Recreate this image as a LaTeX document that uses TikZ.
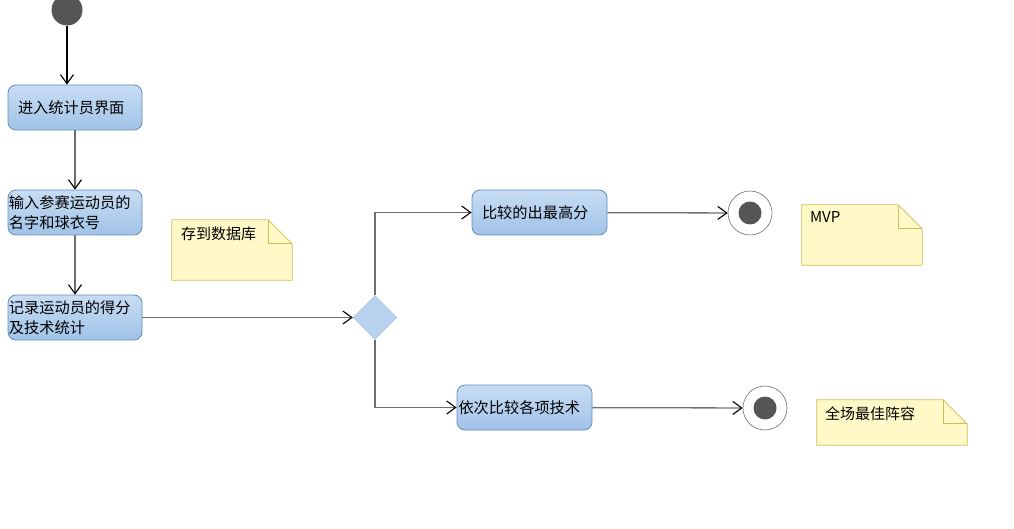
\documentclass[tikz,border=0pt]{standalone}
\usepackage{fontspec}
\setmainfont{Noto Sans CJK SC}
\usetikzlibrary{arrows.meta,shapes.geometric,calc}
\definecolor{boxtop}{RGB}{200,221,243}
\definecolor{boxbot}{RGB}{160,195,232}
\definecolor{boxline}{RGB}{100,140,190}
\definecolor{diafill}{RGB}{185,211,238}
\definecolor{dialine}{RGB}{150,185,225}
\definecolor{dark}{RGB}{85,85,85}
\definecolor{notefill}{RGB}{255,249,200}
\definecolor{noteline}{RGB}{205,190,90}
\definecolor{conn}{RGB}{110,110,110}
\tikzset{
  actbox/.style={rectangle, rounded corners=8pt, draw=boxline, line width=0.8pt,
    top color=boxtop, bottom color=boxbot, minimum width=134pt, minimum height=45pt,
    align=left, font=\fontsize{15.2pt}{20pt}\selectfont},
  decbox/.style={diamond, draw=dialine, fill=diafill, minimum width=44pt, minimum height=44pt, inner sep=0pt, aspect=1},
  startdot/.style={circle, fill=dark, minimum size=31pt, inner sep=0pt},
  endring/.style={circle, draw=conn, line width=0.6pt, fill=white, minimum size=44pt, inner sep=0pt},
  enddot/.style={circle, fill=dark, minimum size=23pt, inner sep=0pt},
  notebox/.style={rectangle, inner sep=0pt},
  noteshape/.style={draw=noteline, fill=notefill, line width=0.7pt},
  notetext/.style={anchor=north west, inner sep=0pt, font=\fontsize{15pt}{20pt}\selectfont},
  arr/.style={draw=conn, line width=1.3pt, -{Straight Barb[length=9pt,width=13pt,line width=1.1pt,color=black]}},
}
\newcommand{\notefold}[1]{%
  \draw[noteshape] (#1.north west) -- ($(#1.north east)+(-24,0)$) -- ($(#1.north east)+(0,24)$) -- (#1.south east) -- (#1.south west) -- cycle;
  \draw[draw=noteline, line width=0.7pt] ($(#1.north east)+(-24,0)$) -- ($(#1.north east)+(-24,24)$) -- ($(#1.north east)+(0,24)$);
}
\begin{document}
\begin{tikzpicture}[x=1pt,y=-1pt]
\useasboundingbox (0,0) rectangle (1014,529);
% nodes
\node[startdot] (start) at (67,10) {};
\node[actbox, inner xsep=10pt, text width=114pt] (b1) at (75,107.5) {进入统计员界面};
\node[actbox, inner xsep=1pt, text width=132pt] (b2) at (75,212.5) {输入参赛运动员的\\名字和球衣号};
\node[actbox, inner xsep=1pt, text width=132pt] (b3) at (75,317.5) {记录运动员的得分\\及技术统计};
\node[decbox] (dia) at (375,317.5) {};
\node[actbox, inner xsep=10pt, text width=115pt] (b4) at (539.5,212.5) {比较的出最高分};
\node[actbox, inner xsep=1.5pt, text width=132pt] (b5) at (524.5,407.5) {依次比较各项技术};
\node[endring] (e1) at (750,213) {};
\node[enddot] at (e1) {};
\node[endring] (e2) at (765,408) {};
\node[enddot] at (e2) {};
% notes
\node[notebox, minimum width=120pt, minimum height=60pt] (n1) at (232,250) {};
\notefold{n1}
\node[notetext] (t1) at ($(n1.north west)+(9,7)$) {存到数据库};
\node[notebox, minimum width=120pt, minimum height=60pt] (n2) at (862,235) {};
\notefold{n2}
\node[notetext] (t2) at ($(n2.north west)+(8,7)$) {MVP};
\node[notebox, minimum width=150pt, minimum height=45pt] (n3) at (892,422.5) {};
\notefold{n3}
\node[notetext] (t3) at ($(n3.north west)+(8,7)$) {全场最佳阵容};
% connectors
\draw[arr, draw=black, line width=1.1pt] (start) -- (start |- b1.north);
\draw[arr] (b1) -- (b2);
\draw[arr] (b2) -- (b3);
\draw[arr] (b3) -- (dia);
\draw[arr] (dia.north) |- (b4.west);
\draw[arr] (dia.south) |- (b5.west);
\draw[arr] (b4) -- (e1);
\draw[arr] (b5) -- (e2);
\end{tikzpicture}
\end{document}
